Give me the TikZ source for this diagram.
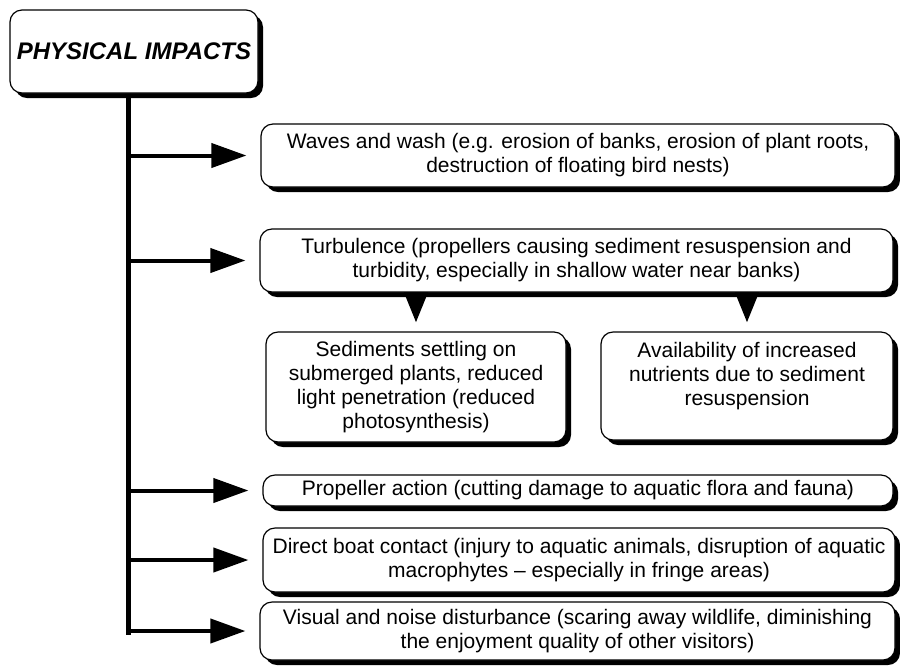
\documentclass[tikz,border=0pt]{standalone}
\usepackage{fontspec}
\setmainfont{Liberation Sans}
\usetikzlibrary{arrows.meta,shadows}
\tikzset{
  boxshadow/.style={drop shadow={fill=black, opacity=1, shadow xshift=2.5pt, shadow yshift=-2.5pt}},
  headbox/.style={draw=black, fill=white, line width=0.6pt, rounded corners=6pt, inner sep=0pt, boxshadow, font=\fontsize{12}{14}\selectfont\bfseries\itshape},
  impact/.style={draw=black, fill=white, line width=0.6pt, rounded corners=6pt, inner sep=0pt, align=center, boxshadow, font=\fontsize{10.5}{12}\selectfont},
  spine/.style={line width=2.5pt},
  arrow/.style={-{Triangle[length=17.5pt, width=12pt]}, line width=2pt, shorten >=7pt},
  downarrow/.style={-{Triangle[length=15pt, width=11.5pt]}, line width=2pt, shorten >=4.5pt}
}
\begin{document}
\begin{tikzpicture}[x=0.5pt, y=-0.5pt]
  \useasboundingbox (0,0) rectangle (900,666);
  \node[headbox, minimum width=124pt, minimum height=41.5pt] (head) at (134,51.5) {PHYSICAL IMPACTS};
  \coordinate (spinebot) at (128,635);
  \draw[spine] ([xshift=-3pt]head.south) -- (spinebot);
  \node[impact, minimum width=317pt, minimum height=31.5pt] (waves) at (578,155.5)
    {Waves and wash (e.g. erosion of banks, erosion of plant roots,\\ destruction of floating bird nests)};
  \node[impact, minimum width=316.5pt, minimum height=31.5pt] (turb) at (576.5,260.5)
    {Turbulence (propellers causing sediment resuspension and\\ turbidity, especially in shallow water near banks)};
  \node[impact, minimum width=150pt, minimum height=55pt] (sedi) at (416,387)
    {Sediments settling on\\ submerged plants, reduced\\ light penetration (reduced\\ photosynthesis)};
  \node[impact, minimum width=146pt, minimum height=54pt] (avail) at (747,386)
    {Availability of increased\\ nutrients due to sediment\\ resuspension\\ \mbox{}};
  \node[impact, minimum width=315pt, minimum height=15.5pt] (prop) at (578,490.5)
    {Propeller action (cutting damage to aquatic flora and fauna)};
  \node[impact, minimum width=316pt, minimum height=32pt] (direct) at (579,560)
    {Direct boat contact (injury to aquatic animals, disruption of aquatic\\ macrophytes -- especially in fringe areas)};
  \node[impact, minimum width=317.5pt, minimum height=29pt] (visual) at (577.5,631)
    {Visual and noise disturbance (scaring away wildlife, diminishing\\ the enjoyment quality of other visitors)};
  % branches off the spine
  \draw[arrow] (spinebot |- waves.west) -- (waves.west);
  \draw[arrow] (spinebot |- turb.west) -- (turb.west);
  \draw[arrow] (spinebot |- prop.west) -- (prop.west);
  \draw[arrow] (spinebot |- direct.west) -- (direct.west);
  \draw[arrow] (spinebot |- visual.west) -- (visual.west);
  % turbulence consequences
  \draw[downarrow] (sedi.north |- turb.south) -- (sedi.north);
  \draw[downarrow] (avail.north |- turb.south) -- (avail.north);
\end{tikzpicture}
\end{document}
